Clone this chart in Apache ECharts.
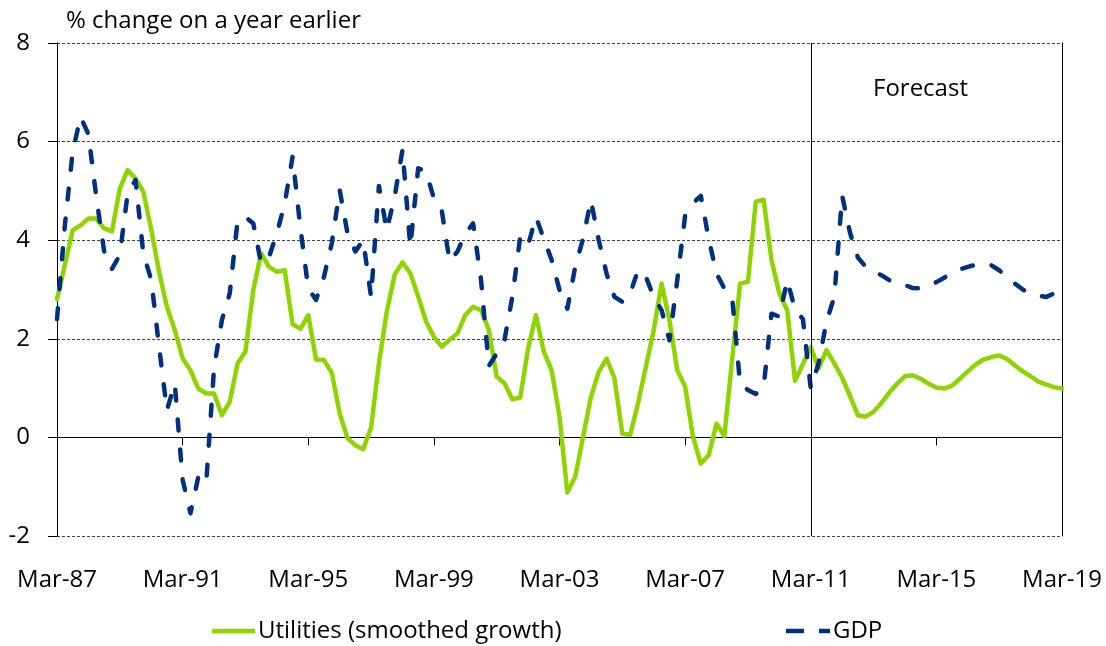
<!DOCTYPE html>
<html>
<head>
<meta charset="utf-8">
<script src="https://cdn.jsdelivr.net/npm/echarts@6/dist/echarts.min.js"></script>
<style>
html,body{margin:0;padding:0;background:#fff;}
#chart{width:1106px;height:646px;}
</style>
</head>
<body>
<div id="chart"></div>
<script>
// Quarterly categories Mar-87 .. Mar-19
const quarterNames = ['Mar', 'Jun', 'Sep', 'Dec'];
const firstYear = 1987;
const lastYear = 2019;
const categories = [];
for (let y = firstYear; y <= lastYear; y++) {
  for (let q = 0; q < 4; q++) {
    if (y === lastYear && q > 0) break;
    categories.push(quarterNames[q] + '-' + String(y).slice(2));
  }
}

const forecastStart = 'Mar-11';
const seriesNames = ['Utilities (smoothed growth)', 'GDP'];

const utilities = [
  2.8, 3.5, 4.2, 4.3, 4.44, 4.44, 4.24, 4.18, 5.05, 5.42,
  5.25, 4.98, 4.22, 3.36, 2.65, 2.18, 1.6, 1.36, 0.99, 0.89,
  0.89, 0.45, 0.72, 1.5, 1.74, 2.99, 3.73, 3.46, 3.36, 3.39,
  2.3, 2.2, 2.48, 1.58, 1.57, 1.31, 0.49, -0.02, -0.16, -0.24,
  0.2, 1.5, 2.55, 3.3, 3.55, 3.33, 2.86, 2.35, 2.04, 1.84,
  1.98, 2.11, 2.48, 2.65, 2.58, 2.18, 1.23, 1.1, 0.77, 0.81,
  1.8, 2.48, 1.74, 1.36, 0.42, -1.12, -0.8, 0.01, 0.82, 1.33,
  1.6, 1.2, 0.08, 0.05, 0.69, 1.43, 2.18, 3.12, 2.38, 1.36,
  1.03, 0.01, -0.53, -0.36, 0.28, 0.03, 1.6, 3.12, 3.16, 4.78,
  4.82, 3.6, 2.92, 2.58, 1.15, 1.49, 1.83, 1.4, 1.77, 1.5,
  1.21, 0.84, 0.45, 0.42, 0.52, 0.7, 0.91, 1.09, 1.24, 1.26,
  1.19, 1.09, 1.01, 0.99, 1.05, 1.19, 1.34, 1.48, 1.58, 1.63,
  1.66, 1.59, 1.46, 1.34, 1.24, 1.13, 1.07, 1.02, 0.99
];

const gdp = [
  2.4, 4.3, 5.8, 6.5, 6.15, 4.88, 3.78, 3.42, 3.7, 4.95,
  5.22, 3.72, 3.2, 1.84, 0.55, 1.09, -0.86, -1.54, -0.8, -0.93,
  1.4, 2.38, 2.92, 4.4, 4.47, 4.34, 3.53, 3.66, 4.14, 4.74,
  5.69, 4.25, 3.02, 2.79, 3.26, 3.94, 5.02, 4.14, 3.77, 4.0,
  2.85, 5.1, 4.2, 4.88, 5.83, 3.87, 5.46, 5.39, 4.85, 4.61,
  3.57, 3.77, 4.14, 4.34, 3.2, 1.45, 1.7, 1.98, 2.86, 4.07,
  3.9, 4.47, 4.03, 3.6, 2.99, 2.61, 3.46, 4.03, 4.81, 4.0,
  3.32, 2.85, 2.75, 2.92, 3.39, 3.26, 2.85, 2.58, 1.97, 3.19,
  4.5, 4.75, 4.9, 4.03, 3.32, 3.02, 2.82, 1.09, 0.96, 0.88,
  1.03, 2.51, 2.45, 3.19, 2.6, 2.4, 1.0, 1.5, 2.35, 2.85,
  4.9, 4.15, 3.65, 3.46, 3.36, 3.29, 3.19, 3.13, 3.09, 3.03,
  3.02, 3.09, 3.15, 3.24, 3.34, 3.41, 3.46, 3.5, 3.52, 3.49,
  3.39, 3.26, 3.12, 3.0, 2.92, 2.87, 2.85, 2.92, 3.09
];

const yMin = -2, yMax = 8, yStep = 2;
const labelEvery = 16;

const FONT = 'Open Sans';
const FS = 24;
const GREEN = '#8fd400';
const NAVY = '#00317f';

const chart = echarts.init(document.getElementById('chart'), null, {renderer: 'canvas'});

chart.setOption({
  animation: false,
  backgroundColor: '#ffffff',
  textStyle: {fontFamily: FONT, color: '#000'},
  title: {
    text: '% change on a year earlier',
    left: 61, top: 4,
    textStyle: {fontFamily: FONT, fontSize: FS, fontWeight: 'normal', color: '#000'}
  },
  grid: {left: 57, right: 44, top: 43, bottom: 110, containLabel: false},
  xAxis: [
    {
      type: 'category', data: categories, boundaryGap: false,
      position: 'bottom',
      axisLine: {show: false, onZero: false},
      axisTick: {show: false},
      axisLabel: {
        interval: labelEvery - 1, margin: 32,
        fontFamily: FONT, fontSize: FS, color: '#000'
      },
      splitLine: {show: false}
    },
    {
      type: 'category', data: categories, boundaryGap: false,
      position: 'top',
      axisLine: {show: true, onZero: true, lineStyle: {color: '#000', width: 1}},
      axisTick: {show: true, interval: labelEvery - 1, inside: true, length: 8, lineStyle: {color: '#000', width: 1}},
      axisLabel: {show: false},
      splitLine: {show: false}
    }
  ],
  yAxis: [
    {
      type: 'value', min: yMin, max: yMax, interval: yStep,
      axisLine: {show: true, lineStyle: {color: '#000', width: 1}},
      axisTick: {show: true, length: 9, lineStyle: {color: '#000', width: 1}},
      axisLabel: {margin: 27, fontFamily: FONT, fontSize: FS, color: '#000'},
      splitLine: {show: true, lineStyle: {color: '#444', width: 1, type: [3, 2]}}
    },
    {
      type: 'value', min: yMin, max: yMax, interval: yStep, position: 'right',
      axisLine: {show: true, lineStyle: {color: '#000', width: 1}},
      axisTick: {show: false}, axisLabel: {show: false}, splitLine: {show: false}
    }
  ],
  series: [
    {
      name: seriesNames[0], type: 'line', data: utilities,
      xAxisIndex: 0, yAxisIndex: 0,
      symbol: 'none', smooth: false,
      lineStyle: {color: GREEN, width: 4.5, cap: 'round', join: 'round'},
      itemStyle: {color: GREEN},
      z: 3,
      markLine: {
        silent: true, symbol: ['none', 'none'],
        label: {show: false},
        lineStyle: {color: '#000', width: 1, type: 'solid'},
        data: [{xAxis: forecastStart}]
      }
    },
    {
      name: seriesNames[1], type: 'line', data: gdp,
      xAxisIndex: 0, yAxisIndex: 0,
      symbol: 'none', smooth: false,
      lineStyle: {color: NAVY, width: 4.5, type: [11, 19], cap: 'round', join: 'round'},
      itemStyle: {color: NAVY},
      z: 4
    }
  ],
  graphic: [
    {
      type: 'text', left: 873, top: 77,
      style: {text: 'Forecast', fontFamily: FONT, fontSize: FS, fill: '#000'}
    },
    // legend
    {
      type: 'line', shape: {x1: 212, y1: 631, x2: 255, y2: 631},
      style: {stroke: GREEN, lineWidth: 4.5}
    },
    {
      type: 'text', x: 258, y: 631,
      style: {text: seriesNames[0], fontFamily: FONT, fontSize: FS, fill: '#000', textVerticalAlign: 'middle'}
    },
    {
      type: 'line', shape: {x1: 786, y1: 631, x2: 830, y2: 631},
      style: {stroke: NAVY, lineWidth: 4.5, lineDash: [18, 15]}
    },
    {
      type: 'text', x: 833, y: 631,
      style: {text: seriesNames[1], fontFamily: FONT, fontSize: FS, fill: '#000', textVerticalAlign: 'middle'}
    }
  ]
});
</script>
</body>
</html>
